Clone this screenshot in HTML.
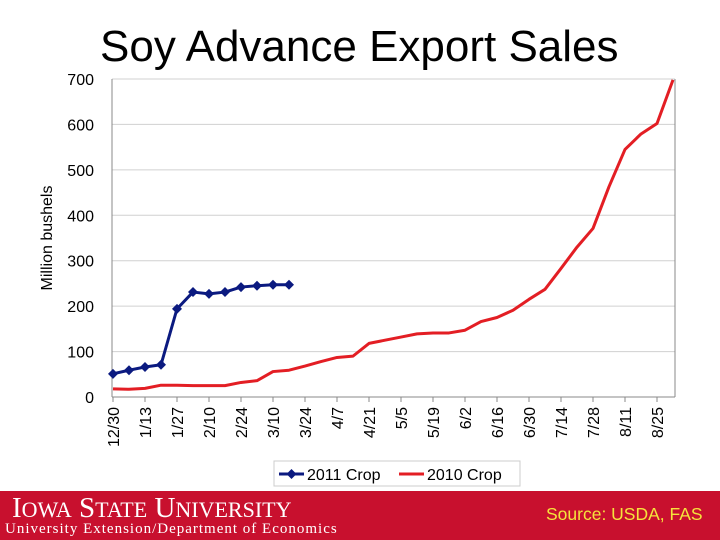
<!DOCTYPE html>
<html><head><meta charset="utf-8"><style>
body{margin:0;width:720px;height:540px;background:#fff;overflow:hidden;position:relative;font-family:"Liberation Sans",sans-serif}
#title{position:absolute;left:100px;top:22px;font-size:44px;color:#000;white-space:nowrap}
#footer{position:absolute;left:0;top:491px;width:720px;height:49px;background:#c8102e}
</style></head><body>
<div id="title">Soy Advance Export Sales</div>
<svg id="chart" width="720" height="491" style="position:absolute;left:0;top:0"></svg>
<div id="footer">
<div style="position:absolute;left:12px;top:1px;font-family:'Liberation Serif',serif;font-size:29px;color:#fff;white-space:nowrap">I<span style="font-size:22px">OWA</span> S<span style="font-size:22px">TATE</span> U<span style="font-size:22px">NIVERSITY</span></div>
<div style="position:absolute;left:5px;top:30px;font-family:'Liberation Serif',serif;font-size:15px;color:#fff;letter-spacing:1px;white-space:nowrap">University Extension/Department of Economics</div>
<div style="position:absolute;left:546px;top:13px;font-size:17.5px;color:#f5e33c;white-space:nowrap">Source: USDA, FAS</div>
</div>
<script>
const xLabels=["12/30","1/13","1/27","2/10","2/24","3/10","3/24","4/7","4/21","5/5","5/19","6/2","6/16","6/30","7/14","7/28","8/11","8/25"];
const yTicks=[0,100,200,300,400,500,600,700];
const crop2011=[51,59,66,71,194,231,227,231,242,245,247,247];
const crop2010=[18,17,19,26,26,25,25,25,32,36,56,59,68,78,87,90,118,125,132,139,141,141,147,166,175,191,215,237,283,330,371,463,545,579,602,698];
const NS="http://www.w3.org/2000/svg";
const svg=document.getElementById('chart');
const x0=113,dx=16,yb=397,yt=79,yMax=700;
const X=i=>x0+i*dx;
const Y=v=>yb-(v/yMax)*(yb-yt);
function mk(t,a){const e=document.createElementNS(NS,t);for(const k in a)e.setAttribute(k,a[k]);svg.appendChild(e);return e;}
yTicks.forEach(v=>{
 const g=mk('line',{x1:112,x2:675,y1:Y(v),y2:Y(v),stroke:v?'#d0d0d0':'#888','stroke-width':1});
 
 
 const t=mk('text',{x:94,y:Y(v)+6,'text-anchor':'end','font-size':16,fill:'#000','font-family':'Liberation Sans, sans-serif'});
 t.textContent=v;
 
 
});
const ax=mk('line',{x1:112,x2:112,y1:yt,y2:yb,stroke:'#888'});


const rx=mk('line',{x1:675,x2:675,y1:yt,y2:yb,stroke:'#888'});


xLabels.forEach((l,k)=>{
 const xx=X(k*2);
 const tk=mk('line',{x1:xx,x2:xx,y1:yb,y2:yb+5,stroke:'#888'});
 
 
 const t=mk('text',{x:0,y:0,'text-anchor':'end','font-size':16,fill:'#000','font-family':'Liberation Sans, sans-serif',transform:`translate(${xx+6},${yb+10}) rotate(-90)`});
 t.textContent=l;
 
 
});
const yt2=mk('text',{x:0,y:0,'text-anchor':'middle','font-size':16,fill:'#000','font-family':'Liberation Sans, sans-serif',transform:'translate(52,238) rotate(-90)'});
yt2.textContent='Million bushels';


const r=mk('polyline',{points:crop2010.map((v,i)=>X(i)+','+Y(v)).join(' '),fill:'none',stroke:'#e31e24','stroke-width':3,'stroke-linejoin':'round'});


const b=mk('polyline',{points:crop2011.map((v,i)=>X(i)+','+Y(v)).join(' '),fill:'none',stroke:'#0b1a80','stroke-width':3,'stroke-linejoin':'round'});


crop2011.forEach((v,i)=>{
 const cx=X(i),cy=Y(v);
 const m=mk('polygon',{points:`${cx},${cy-5} ${cx+5},${cy} ${cx},${cy+5} ${cx-5},${cy}`,fill:'#0b1a80'});
 
 
});
const lg=mk('rect',{x:274,y:461,width:246,height:25,fill:'#fff',stroke:'#ccc'});


const l1=mk('line',{x1:279,x2:304,y1:474,y2:474,stroke:'#0b1a80','stroke-width':3});


const d1=mk('polygon',{points:'291.5,469 296.5,474 291.5,479 286.5,474',fill:'#0b1a80'});


const t1=mk('text',{x:307,y:480,'font-size':16,fill:'#000','font-family':'Liberation Sans, sans-serif'});
t1.textContent='2011 Crop';


const l2=mk('line',{x1:399,x2:424,y1:474,y2:474,stroke:'#e31e24','stroke-width':3});


const t2=mk('text',{x:427,y:480,'font-size':16,fill:'#000','font-family':'Liberation Sans, sans-serif'});
t2.textContent='2010 Crop';


</script>
</body></html>
